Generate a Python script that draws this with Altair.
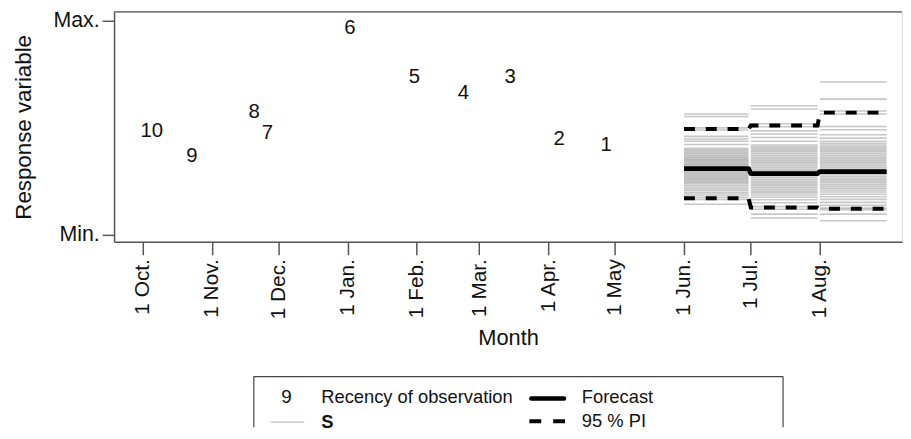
import altair as alt
import pandas as pd

FONT = "Liberation Sans"
BASE = pd.Timestamp("2014-10-01")

# ---- axis ticks ----
tick_dates = ["2014-10-01", "2014-11-01", "2014-12-01", "2015-01-01", "2015-02-01",
              "2015-03-01", "2015-04-01", "2015-05-01", "2015-06-01", "2015-07-01",
              "2015-08-01"]
tick_labels = ["1 Oct.", "1 Nov.", "1 Dec.", "1 Jan.", "1 Feb.", "1 Mar.", "1 Apr.",
               "1 May", "1 Jun.", "1 Jul.", "1 Aug."]
y_ticks = [0, 1]
y_labels = ["Min.", "Max."]

# ---- observations (label = recency) ----
obs_dates = ["2014-10-05", "2014-10-23", "2014-11-20", "2014-11-26", "2015-01-02",
             "2015-01-31", "2015-02-22", "2015-03-15", "2015-04-06", "2015-04-27"]
obs_values = [0.486, 0.366, 0.574, 0.477, 0.968, 0.736, 0.662, 0.736, 0.449, 0.421]
obs_recency = [10, 9, 8, 7, 6, 5, 4, 3, 2, 1]

# ---- forecast months ----
fc_start = ["2015-06-01", "2015-07-01", "2015-08-01"]
fc_end = ["2015-06-30", "2015-07-31", "2015-08-31"]
forecast = [0.310, 0.286, 0.296]
pi_upper = [0.495, 0.511, 0.571]
pi_lower = [0.171, 0.128, 0.122]

# simulated values S per month
s_jun = [0.565, 0.553, 0.500, 0.490, 0.460, 0.448, 0.437, 0.422, 0.405, 0.398, 0.392,
         0.385, 0.379, 0.372, 0.366, 0.360, 0.354, 0.348, 0.342, 0.336, 0.330, 0.325,
         0.318, 0.312, 0.305, 0.300, 0.294, 0.288, 0.282, 0.276, 0.270, 0.264, 0.258,
         0.252, 0.246, 0.240, 0.232, 0.224, 0.215, 0.206, 0.196, 0.186, 0.176, 0.166,
         0.143]
s_jul = [0.603, 0.588, 0.519, 0.505, 0.486, 0.471, 0.455, 0.437, 0.420, 0.412, 0.404,
         0.396, 0.388, 0.380, 0.372, 0.364, 0.356, 0.348, 0.340, 0.332, 0.324, 0.316,
         0.308, 0.300, 0.292, 0.284, 0.276, 0.268, 0.260, 0.252, 0.244, 0.236, 0.228,
         0.220, 0.212, 0.204, 0.196, 0.186, 0.176, 0.164, 0.150, 0.132, 0.120, 0.097,
         0.079]
s_aug = [0.714, 0.634, 0.579, 0.565, 0.506, 0.491, 0.468, 0.452, 0.437, 0.428, 0.420,
         0.412, 0.404, 0.396, 0.388, 0.380, 0.372, 0.364, 0.356, 0.348, 0.340, 0.332,
         0.324, 0.316, 0.308, 0.300, 0.290, 0.282, 0.274, 0.266, 0.258, 0.250, 0.242,
         0.234, 0.226, 0.218, 0.210, 0.200, 0.190, 0.178, 0.166, 0.152, 0.138, 0.125,
         0.118, 0.097, 0.066]


def day(d):
    return (pd.Timestamp(d) - BASE).days


tick_days = [day(d) for d in tick_dates]

obs_df = pd.DataFrame({"x": [day(d) for d in obs_dates], "y": obs_values,
                       "lab": [str(r) for r in obs_recency]})

s_rows = []
for st, en, vals in zip(fc_start, fc_end, [s_jun, s_jul, s_aug]):
    for v in vals:
        s_rows.append({"x": day(st), "x2": day(en), "y": v})
s_df = pd.DataFrame(s_rows)

line_rows = []
for i, (st, en) in enumerate(zip(fc_start, fc_end)):
    for j, d in enumerate([st, en]):
        o = i * 2 + j
        line_rows.append({"x": day(d), "y": forecast[i], "k": "fc", "o": o})
        line_rows.append({"x": day(d), "y": pi_upper[i], "k": "up", "o": o})
        line_rows.append({"x": day(d), "y": pi_lower[i], "k": "lo", "o": o})
line_df = pd.DataFrame(line_rows)

one = pd.DataFrame({"a": [0]})

W, H = 795, 232
xscale = alt.Scale(domain=[-12.9, 340.9], nice=False, zero=False)
yscale = alt.Scale(domain=[-0.0324, 1.0417], nice=False, zero=False)

label_expr_x = "{}[indexof({}, datum.value)]".format(
    "[" + ",".join("'%s'" % l for l in tick_labels) + "]",
    "[" + ",".join(str(v) for v in tick_days) + "]")
label_expr_y = "{}[indexof({}, datum.value)]".format(
    "[" + ",".join("'%s'" % l for l in y_labels) + "]",
    "[" + ",".join(str(v) for v in y_ticks) + "]")

xaxis = alt.Axis(values=tick_days, labelExpr=label_expr_x, labelAngle=270,
                 labelAlign="right", labelBaseline="middle", labelFontSize=21,
                 labelFont=FONT, labelColor="#111", labelPadding=4, tickSize=13,
                 tickColor="#555", tickWidth=1.5, domainColor="#555", domainWidth=1.5,
                 grid=False, title="Month", titleFont=FONT, titleFontSize=22,
                 titleFontWeight="normal", titleColor="#111", titlePadding=9)
yaxis = alt.Axis(values=y_ticks, labelExpr=label_expr_y, labelFontSize=21.5,
                 labelFont=FONT, labelColor="#111", labelPadding=3, tickSize=12,
                 tickColor="#555", tickWidth=1.5, domainColor="#555", domainWidth=1.5,
                 grid=False, title="Response variable", titleFont=FONT,
                 titleFontSize=22.5, titleFontWeight="normal", titleColor="#111",
                 titlePadding=18)

sims = alt.Chart(s_df).mark_rule(color="#7a7a7a", opacity=0.42, strokeWidth=1.6).encode(
    x=alt.X("x:Q", scale=xscale, axis=xaxis), x2="x2:Q",
    y=alt.Y("y:Q", scale=yscale, axis=yaxis))

fc_line = alt.Chart(line_df[line_df.k == "fc"]).mark_line(
    color="black", strokeWidth=4.8, strokeJoin="round").encode(
    x=alt.X("x:Q", scale=xscale), y=alt.Y("y:Q", scale=yscale), order="o:Q")

pi_lines = alt.Chart(line_df[line_df.k != "fc"]).mark_line(
    color="black", strokeWidth=4, strokeDash=[11, 11]).encode(
    x=alt.X("x:Q", scale=xscale), y=alt.Y("y:Q", scale=yscale), detail="k:N",
    order="o:Q")

obs_text = alt.Chart(obs_df).mark_text(font=FONT, fontSize=20.5, color="#111",
                                        align="center", baseline="middle").encode(
    x=alt.X("x:Q", scale=xscale), y=alt.Y("y:Q", scale=yscale), text="lab:N")

top_border = alt.Chart(one).mark_rule(color="#555", strokeWidth=1.5).encode(
    x=alt.value(0), x2=alt.value(W), y=alt.value(0))

# ---- legend (drawn below the plot) ----
DY = 3
LX0, LX1, LY0, LY1 = 141, 675, 365 + DY, 419
leg_box = [
    alt.Chart(one).mark_rule(color="#444", strokeWidth=1.2).encode(
        x=alt.value(LX0), x2=alt.value(LX1), y=alt.value(LY0)),
    alt.Chart(one).mark_rule(color="#444", strokeWidth=1.2).encode(
        x=alt.value(LX0), y=alt.value(LY0), y2=alt.value(LY1)),
    alt.Chart(one).mark_rule(color="#444", strokeWidth=1.2).encode(
        x=alt.value(LX1), y=alt.value(LY0), y2=alt.value(LY1)),
]
leg_items = [
    alt.Chart(one).mark_text(text="9", font=FONT, fontSize=19, color="#111",
                             align="center", baseline="middle").encode(
        x=alt.value(174), y=alt.value(386 + DY)),
    alt.Chart(one).mark_text(text="Recency of observation", font=FONT, fontSize=18.5,
                             color="#111", align="left", baseline="middle").encode(
        x=alt.value(209), y=alt.value(386 + DY)),
    alt.Chart(one).mark_rule(color="#c4c4c4", strokeWidth=1.2).encode(
        x=alt.value(158), x2=alt.value(192), y=alt.value(411 + DY)),
    alt.Chart(one).mark_text(text="S", font=FONT, fontSize=18.5, fontWeight="bold",
                             color="#111", align="left", baseline="middle").encode(
        x=alt.value(209), y=alt.value(411 + DY)),
    alt.Chart(one).mark_rule(color="black", strokeWidth=4.5, strokeCap="round").encode(
        x=alt.value(421), x2=alt.value(454), y=alt.value(387 + DY)),
    alt.Chart(one).mark_text(text="Forecast", font=FONT, fontSize=18.5, color="#111",
                             align="left", baseline="middle").encode(
        x=alt.value(472), y=alt.value(386 + DY)),
    alt.Chart(one).mark_rule(color="black", strokeWidth=4, strokeDash=[12, 12]).encode(
        x=alt.value(419), x2=alt.value(456), y=alt.value(410 + DY)),
    alt.Chart(one).mark_text(text="95 % PI", font=FONT, fontSize=18.5, color="#111",
                             align="left", baseline="middle").encode(
        x=alt.value(472), y=alt.value(410 + DY)),
]

chart = alt.layer(sims, fc_line, pi_lines, obs_text, top_border, *leg_box, *leg_items).properties(
    width=W, height=H, padding={"top": 0, "left": 4, "right": 0, "bottom": 0}
).configure_view(stroke=None).configure(background="white")

chart.save("out.html", embed_options={"renderer": "svg", "actions": False})
